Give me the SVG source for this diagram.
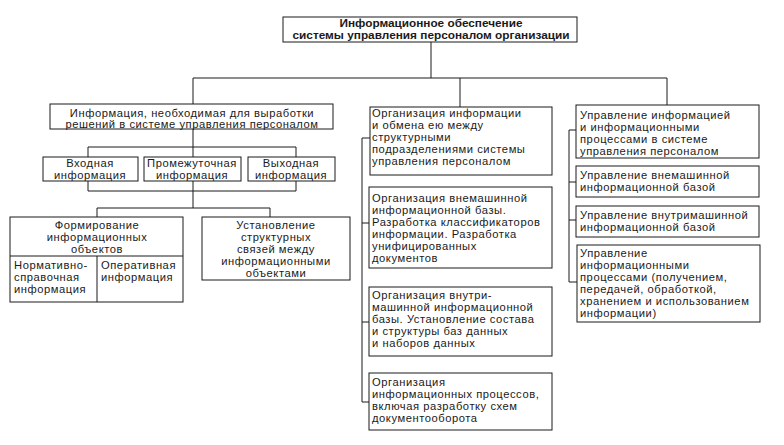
<svg xmlns="http://www.w3.org/2000/svg" width="784" height="445" viewBox="0 0 784 445">
<style>
.b{fill:#fff;stroke:#1a1a1a;stroke-width:1}
.c{fill:none;stroke:#1a1a1a;stroke-width:1}
text{font-family:"Liberation Sans",Arial,sans-serif;font-size:11.2px;letter-spacing:0.55px;fill:#1a1a1a}
.m{text-anchor:middle}
.h{font-weight:bold;font-size:11.2px;letter-spacing:0}
</style>
<rect width="784" height="445" fill="#fff"/>
<g id="connectors">
<path class="c" d="M431,42V78M193,78H667M193,78V104M460,78V107M667,78V105"/>
<path class="c" d="M193,129V157M193,181V208M88,157V147H296V157M88,181V191H296V181M97,217V208H270V217"/>
<path class="c" d="M370,138H362V402H369M362,223H369M362,322H369"/>
<path class="c" d="M576,130H569V282H577M569,182H576M569,220H576"/>
</g>
<g id="root">
<rect class="b" x="283" y="17" width="294" height="25"/>
<text class="m h"><tspan x="431" y="27" textLength="183" lengthAdjust="spacingAndGlyphs">Информационное обеспечение</tspan><tspan x="431" y="39" textLength="277" lengthAdjust="spacingAndGlyphs">системы управления персоналом организации</tspan></text>
</g>
<g id="info-needed">
<rect class="b" x="50" y="104" width="283" height="25"/>
<text class="m"><tspan x="192" y="116.5">Информация, необходимая для выработки</tspan><tspan x="192" y="128">решений в системе управления персоналом</tspan></text>
</g>
<g id="input">
<rect class="b" x="43" y="157" width="95" height="24"/>
<text class="m"><tspan x="90" y="167">Входная</tspan><tspan x="90" y="179">информация</tspan></text>
</g>
<g id="intermediate">
<rect class="b" x="144" y="157" width="97" height="24"/>
<text class="m"><tspan x="192" y="167">Промежуточная</tspan><tspan x="192" y="179">информация</tspan></text>
</g>
<g id="output">
<rect class="b" x="248" y="157" width="87" height="24"/>
<text class="m"><tspan x="291" y="167">Выходная</tspan><tspan x="291" y="179">информация</tspan></text>
</g>
<g id="forming">
<rect class="b" x="10" y="217" width="173" height="85"/>
<path class="c" d="M10,256H183M97,256V302"/>
<text class="m"><tspan x="97" y="229">Формирование</tspan><tspan x="97" y="241">информационных</tspan><tspan x="97" y="253">объектов</tspan></text>
<text><tspan x="14" y="269">Нормативно-</tspan><tspan x="14" y="281">справочная</tspan><tspan x="14" y="293">информация</tspan></text>
<text><tspan x="101" y="269">Оперативная</tspan><tspan x="101" y="281">информация</tspan></text>
</g>
<g id="links">
<rect class="b" x="202" y="217" width="148" height="63"/>
<text class="m"><tspan x="276" y="229">Установление</tspan><tspan x="276" y="241">структурных</tspan><tspan x="276" y="253">связей между</tspan><tspan x="276" y="265">информационными</tspan><tspan x="276" y="277">объектами</tspan></text>
</g>
<g id="org-exchange">
<rect class="b" x="370" y="107" width="182" height="68"/>
<text><tspan x="372" y="117">Организация информации</tspan><tspan x="372" y="129">и обмена ею между</tspan><tspan x="372" y="141">структурными</tspan><tspan x="372" y="153">подразделениями системы</tspan><tspan x="372" y="165">управления персоналом</tspan></text>
</g>
<g id="org-external">
<rect class="b" x="369" y="187" width="183" height="81"/>
<text><tspan x="372" y="202">Организация внемашинной</tspan><tspan x="372" y="214">информационной базы.</tspan><tspan x="372" y="226">Разработка классификаторов</tspan><tspan x="372" y="238">информации. Разработка</tspan><tspan x="372" y="250">унифицированных</tspan><tspan x="372" y="262">документов</tspan></text>
</g>
<g id="org-internal">
<rect class="b" x="369" y="287" width="183" height="69"/>
<text><tspan x="372" y="299">Организация внутри-</tspan><tspan x="372" y="311">машинной информационной</tspan><tspan x="372" y="323">базы. Установление состава</tspan><tspan x="372" y="335">и структуры баз данных</tspan><tspan x="372" y="347">и наборов данных</tspan></text>
</g>
<g id="org-processes">
<rect class="b" x="369" y="373" width="183" height="57"/>
<text><tspan x="372" y="386">Организация</tspan><tspan x="372" y="398">информационных процессов,</tspan><tspan x="372" y="410">включая разработку схем</tspan><tspan x="372" y="422">документооборота</tspan></text>
</g>
<g id="mgmt">
<rect class="b" x="576" y="105" width="183" height="53"/>
<text><tspan x="580" y="119">Управление информацией</tspan><tspan x="580" y="131">и информационными</tspan><tspan x="580" y="143">процессами в системе</tspan><tspan x="580" y="155">управления персоналом</tspan></text>
</g>
<g id="mgmt-external">
<rect class="b" x="576" y="166" width="183" height="31"/>
<text><tspan x="580" y="179">Управление внемашинной</tspan><tspan x="580" y="191">информационной базой</tspan></text>
</g>
<g id="mgmt-internal">
<rect class="b" x="576" y="206" width="183" height="31"/>
<text><tspan x="580" y="219">Управление внутримашинной</tspan><tspan x="580" y="231">информационной базой</tspan></text>
</g>
<g id="mgmt-processes">
<rect class="b" x="577" y="245" width="183" height="77"/>
<text><tspan x="580" y="257">Управление</tspan><tspan x="580" y="269">информационными</tspan><tspan x="580" y="281">процессами (получением,</tspan><tspan x="580" y="293">передачей, обработкой,</tspan><tspan x="580" y="305">хранением и использованием</tspan><tspan x="580" y="317">информации)</tspan></text>
</g>
</svg>
